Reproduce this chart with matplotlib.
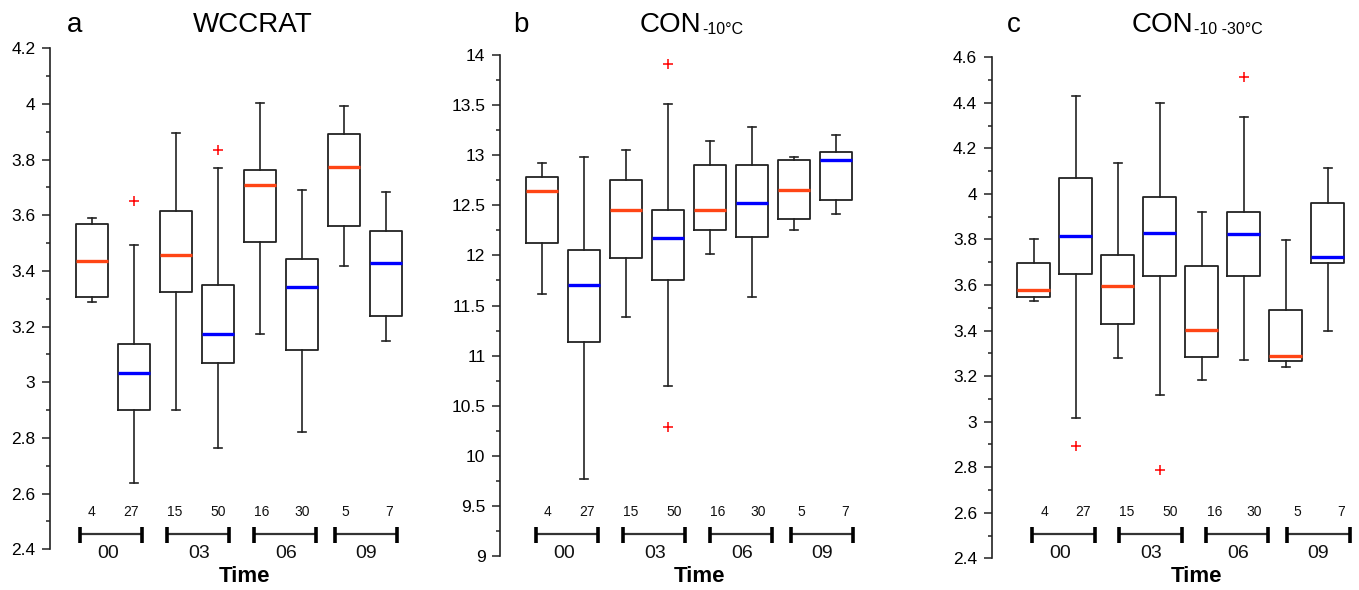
import matplotlib
matplotlib.use('Agg')
import matplotlib.pyplot as plt
import matplotlib.transforms as mtransforms
from matplotlib.ticker import MultipleLocator, FuncFormatter

plt.rcParams['font.family'] = ['Liberation Sans', 'DejaVu Sans']

# ---------------- data ----------------
counts = [4, 27, 15, 50, 16, 30, 5, 7]
groups = ['00', '03', '06', '09']
median_kind = ['o', 'b', 'o', 'b', 'o', 'b', 'o', 'b']

a_whislo = [3.288, 2.638, 2.899, 2.765, 3.172, 2.822, 3.418, 3.149]
a_q1     = [3.305, 2.900, 3.324, 3.070, 3.505, 3.116, 3.563, 3.237]
a_med    = [3.435, 3.034, 3.457, 3.175, 3.709, 3.341, 3.772, 3.429]
a_q3     = [3.569, 3.138, 3.617, 3.349, 3.762, 3.443, 3.892, 3.545]
a_whishi = [3.591, 3.492, 3.897, 3.771, 4.003, 3.690, 3.993, 3.683]
a_fliers = [[], [3.650], [], [3.835], [], [], [], []]

b_whislo = [11.615, 9.768, 11.385, 10.693, 12.014, 11.582, 12.250, 12.413]
b_q1     = [12.120, 11.139, 11.974, 11.751, 12.254, 12.187, 12.360, 12.556]
b_med    = [12.639, 11.701, 12.450, 12.174, 12.453, 12.523, 12.656, 12.955]
b_q3     = [12.782, 12.051, 12.753, 12.453, 12.906, 12.902, 12.949, 13.035]
b_whishi = [12.919, 12.979, 13.052, 13.511, 13.145, 13.278, 12.979, 13.205]
b_fliers = [[], [], [], [13.907, 10.287], [], [], [], []]

c_whislo = [3.530, 3.017, 3.281, 3.117, 3.181, 3.272, 3.240, 3.398]
c_q1     = [3.547, 3.648, 3.429, 3.640, 3.284, 3.641, 3.268, 3.695]
c_med    = [3.579, 3.817, 3.594, 3.827, 3.401, 3.825, 3.287, 3.722]
c_q3     = [3.697, 4.070, 3.730, 3.988, 3.685, 3.919, 3.490, 3.961]
c_whishi = [3.801, 4.429, 4.136, 4.399, 3.922, 4.337, 3.798, 4.113]
c_fliers = [[], [2.893], [], [2.786], [], [4.515], [], []]

# ---------------- layout ----------------
W, H = 1359, 590
fig = plt.figure(figsize=(W / 100, H / 100), dpi=100)

def fx(px):
    return px / W

def fy(py):
    return 1 - py / H

ORANGE = '#FF4515'
BLUE = '#0000FF'
EDGE = '#222222'

panels = [
    dict(left=50, bottom=549.3, lo=2.4, hi=4.2, major=0.2,
         data=(a_whislo, a_q1, a_med, a_q3, a_whishi, a_fliers), shift=0.0),
    dict(left=500, bottom=556.0, lo=9, hi=14, major=0.5,
         data=(b_whislo, b_q1, b_med, b_q3, b_whishi, b_fliers), shift=0.14),
    dict(left=991.7, bottom=558.3, lo=2.4, hi=4.6, major=0.2,
         data=(c_whislo, c_q1, c_med, c_q3, c_whishi, c_fliers), shift=0.25),
]

XMAX = 8.6
PX_PER_UNIT = 42.0
AX_H = 501.0

bracket_start = [0.715, 2.79, 4.86, 6.78]
bracket_end = [2.20, 4.27, 6.34, 8.27]
group_center = [1.38, 3.55, 5.62, 7.52]
count_offset = [0.0, -0.07, -0.03, 0.0, 0.05, 0.0, 0.03, 0.07]

for p in panels:
    ax = fig.add_axes([fx(p['left']), fy(p['bottom']),
                       XMAX * PX_PER_UNIT / W, AX_H / H])
    wlo, q1, med, q3, whi, fl = p['data']
    stats = [dict(whislo=wlo[i], q1=q1[i], med=med[i], q3=q3[i],
                  whishi=whi[i], fliers=fl[i]) for i in range(8)]
    res = ax.bxp(stats, positions=list(range(1, 9)), widths=0.78,
                 capwidths=0.2, manage_ticks=False,
                 boxprops=dict(color=EDGE, linewidth=1.3),
                 whiskerprops=dict(color=EDGE, linewidth=1.2),
                 capprops=dict(color=EDGE, linewidth=1.2),
                 medianprops=dict(linewidth=2.4),
                 flierprops=dict(marker='+', markeredgecolor='#FF0000',
                                 markersize=7, markeredgewidth=1.1,
                                 linestyle='none'))
    for i, line in enumerate(res['medians']):
        line.set_color(ORANGE if median_kind[i] == 'o' else BLUE)
        line.set_solid_capstyle('butt')

    ax.set_xlim(0, XMAX)
    ax.set_ylim(p['lo'], p['hi'])
    for s in ['top', 'right', 'bottom']:
        ax.spines[s].set_visible(False)
    ax.spines['left'].set_linewidth(1.2)
    ax.spines['left'].set_color(EDGE)
    ax.set_xticks([])
    ax.yaxis.set_major_locator(MultipleLocator(p['major']))
    ax.yaxis.set_minor_locator(MultipleLocator(p['major'] / 2))
    ax.yaxis.set_major_formatter(FuncFormatter(lambda v, pos: '%g' % round(v, 6)))
    ax.tick_params(axis='y', which='major', length=5.5, width=1.1,
                   labelsize=12.5, pad=5, color=EDGE)
    ax.tick_params(axis='y', which='minor', length=3, width=1.1, color=EDGE)
    ax.patch.set_visible(False)

    trans = mtransforms.blended_transform_factory(ax.transData, fig.transFigure)
    sh = p['shift']
    for g in range(4):
        x0 = bracket_start[g] + sh
        x1 = bracket_end[g] + sh
        ax.plot([x0, x1], [fy(534), fy(534)], transform=trans, color='#333333',
                lw=1.6, clip_on=False, solid_capstyle='butt')
        for xx in (x0, x1):
            ax.plot([xx, xx], [fy(526.5), fy(542.5)], transform=trans,
                    color='black', lw=2.6, clip_on=False, solid_capstyle='butt')
        ax.text(group_center[g] + sh, fy(553.5), groups[g], transform=trans,
                ha='center', va='center', fontsize=14, color='#111111')
    for i, n in enumerate(counts):
        ax.text(i + 1 + count_offset[i] + sh, fy(512), str(n), transform=trans,
                ha='center', va='center', fontsize=10, color='#111111')
    ax.text(4.62 + sh, fy(577), 'Time', transform=trans, ha='center',
            va='center', fontsize=16, fontweight='bold')

# ---------------- titles ----------------
TB = fy(31.5)
fig.text(fx(66.7), TB, 'a', fontsize=20, va='baseline', ha='left')
fig.text(fx(193), TB, 'WCCRAT', fontsize=20, va='baseline', ha='left')
fig.text(fx(513), TB, 'b', fontsize=20, va='baseline', ha='left')
fig.text(fx(1006.7), TB, 'c', fontsize=20, va='baseline', ha='left')

renderer = fig.canvas.get_renderer()
for x_left, sub in [(640, '-10°C'), (1131.7, '-10 -30°C')]:
    t = fig.text(fx(x_left), TB, 'CON', fontsize=20, va='baseline', ha='left')
    bb = t.get_window_extent(renderer=renderer)
    fig.text(bb.x1 / W + fx(1.0), fy(33.8), sub, fontsize=11.5,
             va='baseline', ha='left')

fig.savefig('out.png', dpi=100)
